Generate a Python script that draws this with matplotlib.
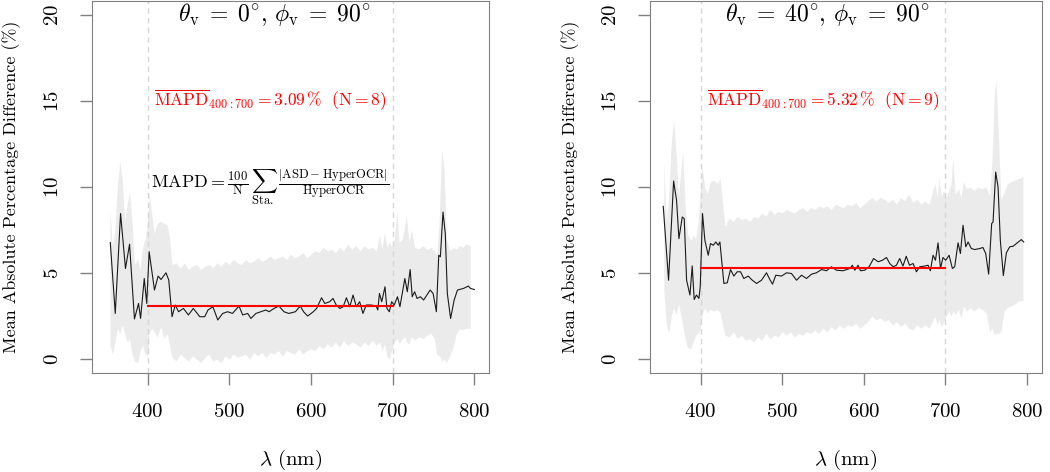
import matplotlib
matplotlib.use("Agg")
import matplotlib.pyplot as plt

plt.rcParams["mathtext.fontset"] = "cm"
plt.rcParams["font.family"] = "cmr10"
plt.rcParams["axes.formatter.use_mathtext"] = True

# ---------- data: left panel (theta_v = 0) ----------
wl_line_0 = [354.4, 360.5, 367, 373, 378, 384, 389, 391.5, 396, 399, 402, 408.5, 413, 416.5,
             422.6, 426, 430, 434, 438, 444, 450, 456, 464, 470, 474, 480, 486, 492, 498, 504,
             512, 516.5, 522.6, 526.6, 532.7, 538.7, 544.8, 548.8, 554.8, 560.9, 567, 573, 581,
             587, 591, 596, 603, 607, 613, 617, 623, 627, 631, 635.5, 639.5, 643.5, 647.6, 651.6,
             655.6, 659.7, 663.7, 667.7, 673.8, 679.8, 681.9, 683.9, 686.7, 690.7, 693, 696, 698.8,
             702, 706, 709, 715, 718, 721.5, 724, 727, 730, 734, 738, 746, 749.6, 753.6, 756.5,
             758.5, 761.7, 764.5, 767, 771, 775.4, 779.4, 786.7, 792.7, 795.5, 800]
mapd_0 = [6.78, 2.66, 8.46, 5.27, 6.68, 2.34, 3.24, 2.37, 4.69, 3.24, 6.24, 4.02, 4.83, 4.63,
          5.02, 4.6, 2.47, 3.15, 2.76, 2.95, 2.57, 2.95, 2.47, 2.47, 2.86, 3.05, 2.28, 2.66, 2.76, 2.66,
          3.09, 2.57, 2.66, 2.37, 2.66, 2.76, 2.86, 2.76, 2.95, 3.09, 2.76, 2.66, 2.76,
          3.09, 2.76, 2.51, 2.76, 2.95, 3.57, 3.24, 3.34, 3.53, 3.15, 2.95, 3.05, 3.57, 3.05, 3.73,
          3.05, 3.34, 2.66, 3.15, 3.15, 3.09, 2.86, 3.82, 3.34, 4.21, 2.95, 2.76, 3.34,
          3.15, 3.63, 3.05, 4.69, 3.92, 5.21, 3.63, 3.92, 3.53, 3.63, 3.44, 4.02, 3.82, 2.76, 6.04,
          5.95, 8.55, 7.30, 3.82, 2.37, 3.44, 4.02, 4.11, 4.25, 4.11, 4.05]

wl_band_0 = [354, 357, 360, 363, 366, 369, 372, 375, 378, 381, 384, 388, 391, 394, 397, 400, 402,
             405, 408, 412, 416, 420, 424, 427, 430, 435, 440, 445, 450, 455, 460, 465, 470, 475,
             480, 485, 490, 495, 500, 505, 510, 515, 520, 525, 530, 535, 540, 545, 550, 555, 560,
             565, 570, 575, 580, 585, 590, 595, 600, 605, 610, 615, 620, 625, 630, 635, 640, 645,
             650, 655, 660, 665, 670, 675, 680, 684, 687, 690, 693, 696, 699, 702, 705, 708, 712,
             715, 717, 720, 723, 727, 732, 737, 742, 747, 751, 754, 757, 760, 763, 766, 770, 774,
             778, 782, 786, 790, 795]
upper_0 = [8.7, 6.5, 7.5, 10.0, 11.5, 10.5, 8.0, 9.0, 9.7, 8.0, 5.5, 5.8, 5.2, 6.5, 7.0, 8.0, 9.6,
           8.5, 7.3, 7.9, 8.0, 7.9, 7.8, 7.0, 5.5, 5.6, 5.3, 5.6, 5.2, 5.4, 5.5, 5.2, 5.4, 5.5,
           5.3, 5.6, 5.4, 5.7, 5.5, 5.8, 5.6, 5.5, 5.8, 5.6, 5.7, 5.9, 5.7, 5.8, 6.0, 5.8, 5.9,
           6.0, 5.8, 6.1, 5.9, 6.0, 6.2, 5.9, 6.1, 6.3, 6.2, 6.5, 6.3, 6.4, 6.2, 6.5, 6.3, 6.7,
           6.4, 6.6, 6.3, 6.6, 6.4, 6.5, 6.3, 7.2, 6.4, 7.4, 6.5, 6.8, 6.5, 7.0, 8.6, 6.8, 7.0,
           7.8, 8.3, 6.8, 7.5, 6.5, 6.4, 6.6, 6.4, 6.5, 6.3, 6.0, 8.0, 12.2, 11.0, 7.0, 6.3, 6.5,
           6.4, 6.6, 6.5, 6.7, 6.6]
lower_0 = [0.8, 0.3, 1.0, 1.8, 1.5, 2.0, 1.5, 1.0, 1.2, 0.3, -0.1, -0.2, 0.5, 0.8, 0.3, 0.2, 1.5,
           1.8, 1.6, 1.3, 1.9, 1.2, 1.5, 0.8, 0.1, -0.1, 0.3, 0.1, -0.1, 0.2, 0.0, -0.2, 0.1, 0.3,
           -0.1, 0.0, -0.2, 0.2, 0.0, 0.3, 0.1, 0.2, 0.3, 0.0, 0.4, 0.2, 0.4, 0.1, 0.4, 0.3, 0.5,
           0.2, 0.5, 0.4, 0.3, 0.6, 0.3, 0.5, 0.6, 0.5, 0.8, 0.6, 0.9, 0.7, 1.0, 0.7, 1.1, 0.8,
           1.0, 0.9, 0.7, 1.0, 0.8, 1.1, 0.8, 1.0, 0.5, 0.9, 0.2, 0.0, 0.6, 1.0, 1.2, 0.9, 1.2,
           1.3, 1.0, 0.9, 1.3, 1.1, 1.3, 1.2, 1.4, 1.5, 1.2, 0.3, 0.2, -0.1, 0.0, -0.2, 0.2, 0.7,
           1.5, 1.8, 1.7, 1.8, 1.8]

# ---------- data: right panel (theta_v = 40) ----------
wl_line_40 = [354.3, 360.8, 367, 370.6, 373.5, 377.6, 380, 382.9, 387, 389.8, 392.2, 395, 398,
              399.6, 402.4, 405.3, 409.4, 412.2, 415.5, 418.8, 421.6, 423.7, 428.6, 432.7, 436.7,
              440.8, 444.9, 449, 453, 458.4, 462.4, 468.6, 474.7, 480.8, 484.9, 488.2, 492.2,
              499.2, 505.3, 511.4, 517.6, 523.7, 529.8, 535.9, 542, 548.2, 554.3, 560.4, 566.5,
              574.7, 582.9, 586, 589, 593, 596, 601, 606.5, 612, 617.6, 622.9, 627.8, 631.8, 636,
              640, 644, 648, 652, 656, 660.4, 664.5, 668.6, 674.7, 678.8, 681.6, 684.9, 687.8, 691,
              694, 697, 700.4, 704.5, 708.6, 711.4, 715.5, 718.4, 721.6, 725, 727.8, 731.8, 736,
              742, 746, 749.4, 753, 756.7, 758.4, 761.6, 764.5, 767.3, 771, 774.7, 778.8, 782.9,
              787, 791, 793, 796]
mapd_40 = [8.88, 4.59, 10.35, 9.23, 7.0, 8.26, 8.17, 4.59, 3.73, 5.42, 3.47, 3.73, 3.53,
           4.21, 8.46, 6.91, 6.04, 6.72, 6.62, 6.81, 6.62, 6.81, 4.40, 4.44, 5.21,
           4.83, 5.08, 5.08, 4.69, 4.83, 4.63, 4.40, 4.59, 5.02, 4.63, 4.36, 4.88,
           4.83, 5.02, 4.98, 4.59, 4.88, 4.69, 4.94, 5.02, 5.21, 5.14, 5.37, 5.17,
           5.14, 5.27, 5.46, 5.17, 5.46, 5.14, 5.17, 5.37, 5.85, 5.66, 5.75, 5.91, 5.56, 5.37,
           5.46, 5.85, 5.41, 5.98, 5.46, 5.56, 5.08, 5.37, 5.41, 5.46, 5.14, 6.04, 5.75, 6.76,
           5.27, 5.91, 5.75, 6.04, 5.27, 5.37, 6.76, 6.14, 7.78, 6.53, 6.81, 6.43, 6.37,
           6.43, 6.49, 6.14, 4.94, 7.88, 7.97, 10.87, 10.0, 6.91, 4.86, 6.18, 6.53, 6.56,
           6.72, 6.87, 6.95, 6.81]

wl_band_40 = [355, 358, 361, 364, 367, 370, 373, 376, 378, 381, 384, 388, 391, 394, 397, 400, 402,
              405, 408, 412, 416, 420, 424, 427, 430, 435, 440, 445, 450, 455, 460, 465, 470, 475,
              480, 485, 490, 495, 500, 505, 510, 515, 520, 525, 530, 535, 540, 545, 550, 555, 560,
              565, 570, 575, 580, 585, 590, 595, 600, 605, 610, 615, 620, 625, 630, 635, 640, 645,
              650, 655, 660, 665, 670, 675, 680, 684, 687, 690, 692, 695, 698, 701, 704, 707, 709,
              712, 716, 719, 722, 726, 730, 735, 740, 745, 750, 754, 757, 760, 762, 765, 768, 772,
              776, 780, 785, 790, 795]
upper_40 = [11.4, 8.0, 9.5, 12.5, 13.9, 12.0, 9.5, 11.0, 12.1, 9.0, 7.3, 6.9, 7.2, 7.0, 8.0, 10.0,
            11.2, 10.0, 9.6, 10.3, 10.4, 10.2, 10.5, 9.0, 7.7, 8.2, 8.0, 8.3, 8.1, 8.2, 8.0, 8.3,
            8.2, 8.5, 8.3, 8.7, 8.4, 8.6, 8.5, 8.7, 8.6, 8.5, 8.7, 8.8, 8.6, 8.8, 8.7, 8.9, 8.8,
            8.9, 8.7, 9.0, 8.9, 8.8, 9.0, 8.9, 9.1, 8.8, 9.0, 9.2, 9.4, 9.2, 9.4, 9.3, 9.1, 9.3,
            9.0, 9.4, 9.2, 9.6, 9.1, 9.3, 9.0, 9.2, 9.0, 9.7, 10.2, 9.4, 10.5, 9.5, 9.8, 9.4, 9.8,
            10.2, 11.7, 9.6, 9.9, 9.4, 10.3, 9.9, 10.0, 9.8, 10.0, 9.9, 10.0, 9.5, 11.5, 15.5,
            16.2, 13.0, 9.3, 9.7, 10.2, 10.3, 10.4, 10.5, 10.6]
lower_40 = [4.0, 2.0, 1.5, 2.5, 3.0, 2.6, 3.2, 2.5, 2.0, 1.2, 0.7, 0.6, 1.0, 1.4, 1.5, 1.8, 2.6,
            3.0, 2.7, 2.9, 2.8, 2.9, 2.7, 2.0, 1.4, 1.3, 1.6, 1.2, 1.4, 1.1, 1.2, 1.0, 1.3, 1.1,
            1.5, 1.2, 1.4, 1.3, 1.6, 1.4, 1.6, 1.3, 1.5, 1.4, 1.6, 1.5, 1.7, 1.5, 1.8, 1.6, 1.9,
            1.7, 2.0, 1.8, 2.0, 1.9, 2.1, 1.8, 2.0, 2.2, 2.5, 2.3, 2.4, 2.2, 2.3, 2.0, 2.2, 1.9,
            2.1, 1.8, 1.7, 2.0, 1.8, 2.0, 1.8, 2.2, 2.5, 2.0, 2.3, 1.9, 2.2, 2.5, 2.8, 2.5, 2.8,
            2.6, 2.9, 2.4, 3.1, 2.8, 3.0, 2.8, 3.0, 2.9, 2.7, 1.6, 1.8, 1.4, 1.5, 1.5, 1.6, 2.8,
            3.0, 3.1, 3.2, 3.4, 3.4]

panels = [
    dict(wl=wl_line_0, mapd=mapd_0, wb=wl_band_0, up=upper_0, lo=lower_0,
         mean=3.09, n=8, theta=0, xlim=(332, 818)),
    dict(wl=wl_line_40, mapd=mapd_40, wb=wl_band_40, up=upper_40, lo=lower_40,
         mean=5.32, n=9, theta=40, xlim=(338, 818)),
]
positions = [[0.0876, 0.2097, 0.3781, 0.788], [0.619, 0.2097, 0.3731, 0.788]]

fig = plt.figure(figsize=(10.5, 4.72), dpi=100)

for i, p in enumerate(panels):
    ax = fig.add_axes(positions[i])
    ax.fill_between(p["wb"], p["lo"], p["up"], color="#ebebeb", lw=0)
    for v in (400, 700):
        ax.axvline(v, color="#d6d6d6", lw=1, ls=(0, (4, 3)))
    ax.plot(p["wl"], p["mapd"], color="#1a1a1a", lw=0.8)
    ax.plot([400, 700], [p["mean"], p["mean"]], color="red", lw=1.5)

    ax.text(555, 20, r"$\theta_{\mathrm{v}}\;=\;%d^{\circ},\,\phi_{\mathrm{v}}\;=\;90^{\circ}$" % p["theta"],
            ha="center", va="center", fontsize=17)
    ax.text(550, 15, r"$\overline{\mathrm{MAPD}}_{400:700} = %.2f\,\%%\ \ (\mathrm{N} = %d)$"
            % (p["mean"], p["n"]), ha="center", va="center", fontsize=12.5, color="red")
    if i == 0:
        ax.text(550, 10, r"$\mathrm{MAPD} = \frac{100}{\mathrm{N}}\, \sum_{\mathrm{Sta.}}\,"
                r" \frac{|\mathrm{ASD} - \mathrm{HyperOCR}|}{\mathrm{HyperOCR}}$",
                ha="center", va="center", fontsize=13)

    ax.set_xlim(*p["xlim"])
    ax.set_ylim(-0.8, 20.8)
    ax.set_xticks([400, 500, 600, 700, 800])
    ax.set_yticks([0, 5, 10, 15, 20])
    for s in ax.spines.values():
        s.set_color("#808080")
    ax.tick_params(length=8.6, width=1, color="#808080", labelsize=15, pad=13)
    for lab in ax.get_yticklabels():
        lab.set_rotation(90)
        lab.set_va("center")
    ax.set_xlabel(r"$\lambda\ (\mathrm{nm})$", fontsize=15)
    ax.xaxis.set_label_coords(0.5, -0.2)
    ax.set_ylabel("Mean Absolute Percentage Difference (%)", fontsize=13)
    ax.yaxis.set_label_coords(-0.178, 0.5)

fig.savefig("out.png", dpi=100)
